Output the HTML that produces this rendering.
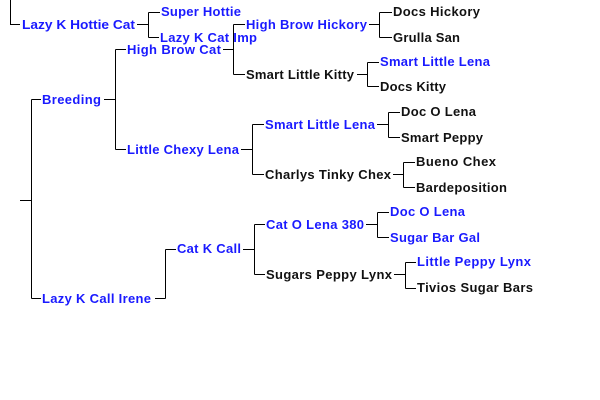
<!DOCTYPE html>
<html><head><style>
html,body{margin:0;padding:0;background:#fff;width:600px;height:400px;overflow:hidden}
svg text{font-family:"Liberation Sans",sans-serif;font-weight:bold;font-size:13px}
.b{fill:#1a1aff}.k{fill:#111}
</style></head><body>
<svg width="600" height="400" xmlns="http://www.w3.org/2000/svg">
<g stroke="#000" stroke-width="1" fill="none" shape-rendering="crispEdges">
<path d="M10.5 0V24.5H20"/>
<path d="M137 24.5H148.5M148.5 12.5V37.5M148.5 12.5H160M148.5 37.5H159"/>
<path d="M20 200.5H31.5M31.5 99.5V298.5M31.5 99.5H41M31.5 298.5H41"/>
<path d="M104 99.5H115.5M115.5 49.5V149.5M115.5 49.5H126M115.5 149.5H126"/>
<path d="M223 49.5H233.5M233.5 24.5V74.5M233.5 24.5H245M233.5 74.5H245"/>
<path d="M369 24.5H379.5M379.5 12.5V37.5M379.5 12.5H392M379.5 37.5H392"/>
<path d="M357 74.5H367.5M367.5 62.5V86.5M367.5 62.5H379M367.5 86.5H379"/>
<path d="M241 149.5H252.5M252.5 124.5V174.5M252.5 124.5H264M252.5 174.5H264"/>
<path d="M377 124.5H388.5M388.5 112.5V137.5M388.5 112.5H400M388.5 137.5H400"/>
<path d="M393 174.5H403.5M403.5 162.5V187.5M403.5 162.5H415M403.5 187.5H415"/>
<path d="M155 298.5H165.5M165.5 249.5V298.5M165.5 249.5H176"/>
<path d="M243 249.5H254.5M254.5 224.5V274.5M254.5 224.5H265M254.5 274.5H265"/>
<path d="M366 224.5H377.5M377.5 212.5V237.5M377.5 212.5H389M377.5 237.5H389"/>
<path d="M394 274.5H405.5M405.5 262.5V288.5M405.5 262.5H416M405.5 288.5H416"/>
</g>
<text class="b" x="22" y="29" textLength="113" lengthAdjust="spacingAndGlyphs">Lazy K Hottie Cat</text>
<text class="b" x="161" y="16" textLength="80">Super Hottie</text>
<text class="b" x="160" y="42" textLength="97">Lazy K Cat Imp</text>
<text class="b" x="42" y="104" textLength="59">Breeding</text>
<text class="b" x="127" y="54" textLength="94">High Brow Cat</text>
<text class="b" x="127" y="154" textLength="112">Little Chexy Lena</text>
<text class="b" x="246" y="29" textLength="121">High Brow Hickory</text>
<text class="k" x="246" y="79" textLength="108">Smart Little Kitty</text>
<text class="k" x="393" y="16" textLength="87">Docs Hickory</text>
<text class="k" x="393" y="42" textLength="67">Grulla San</text>
<text class="b" x="380" y="66" textLength="110">Smart Little Lena</text>
<text class="k" x="380" y="91" textLength="66">Docs Kitty</text>
<text class="b" x="265" y="129" textLength="110">Smart Little Lena</text>
<text class="k" x="265" y="179" textLength="126">Charlys Tinky Chex</text>
<text class="k" x="401" y="116" textLength="75">Doc O Lena</text>
<text class="k" x="401" y="142" textLength="82">Smart Peppy</text>
<text class="k" x="416" y="166" textLength="80">Bueno Chex</text>
<text class="k" x="416" y="192" textLength="91">Bardeposition</text>
<text class="b" x="42" y="303" textLength="109">Lazy K Call Irene</text>
<text class="b" x="177" y="253" textLength="64">Cat K Call</text>
<text class="b" x="266" y="229" textLength="98">Cat O Lena 380</text>
<text class="k" x="266" y="279" textLength="126">Sugars Peppy Lynx</text>
<text class="b" x="390" y="216" textLength="75">Doc O Lena</text>
<text class="b" x="390" y="242" textLength="90">Sugar Bar Gal</text>
<text class="b" x="417" y="266" textLength="114">Little Peppy Lynx</text>
<text class="k" x="417" y="292" textLength="116">Tivios Sugar Bars</text>
</svg>
</body></html>
